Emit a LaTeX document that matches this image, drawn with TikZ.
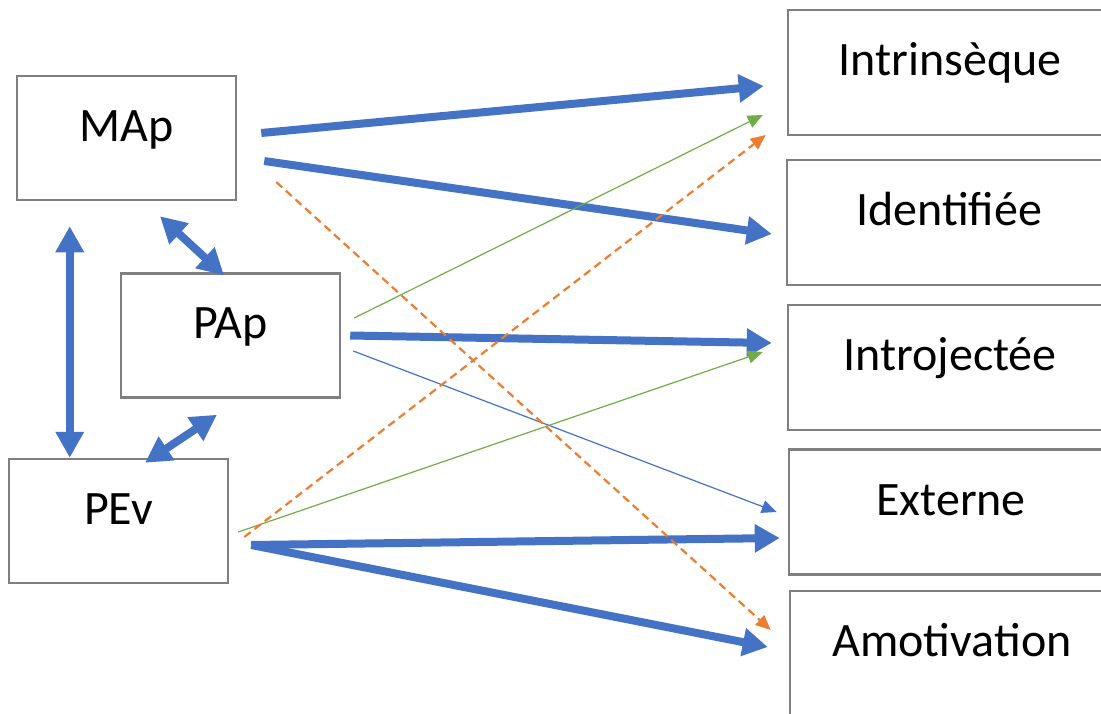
\documentclass[tikz,border=0pt]{standalone}
\usepackage{fontspec}
\setmainfont{Carlito}
\usetikzlibrary{arrows.meta,positioning,calc}
\definecolor{motblue}{HTML}{4472C4}
\definecolor{motgreen}{HTML}{70AD47}
\definecolor{motorange}{HTML}{ED7D31}
\definecolor{motgray}{HTML}{7F7F7F}
\begin{document}
\begin{tikzpicture}[
    x=1pt, y=-1pt,
    box/.style={rectangle, draw=motgray, line width=2.5pt, fill=white, minimum width=219pt, minimum height=124pt, text height=31pt, text depth=25pt, inner sep=0pt, font=\fontsize{48}{57}\selectfont},
    type/.style={box, minimum width=324pt, minimum height=125pt},
    bigarrow/.style={-{Triangle[length=25pt,width=27pt]}, line width=8pt, motblue},
    duo/.style={{Triangle[length=26pt,width=27pt]}-{Triangle[length=26pt,width=27pt]}, line width=8pt, motblue},
    thinarrow/.style={-{Triangle[length=15pt,width=13pt]}, line width=1.2pt},
    dasharrow/.style={-{Triangle[length=15pt,width=13pt]}, line width=2.2pt, motorange, dash pattern=on 8pt off 5pt}
]
\useasboundingbox (0,0) rectangle (1101,713);
\clip (0,0) rectangle (1101,713);

% Predictors (left side)
\node[box] (map) at (126.5,138) {MAp};
\node[box] (pap) at (230.5,335.5) {PAp};
\node[box] (pev) at (118.5,521) {PEv};

% Types of motivation (right side)
\node[type] (intr) at (950,72.5) {Intrinsèque};
\node[type] (iden) at (949,222.5) {Identifiée};
\node[type] (intj) at (950,367.5) {Introjectée};
\node[type] (ext) at (951,512) {Externe};
\node[type] (amot) at (952,653.5) {Amotivation};

% Links between predictors
\draw[duo] ([shift={(54,25)}]map.south west) -- ([shift={(62,0)}]pev.north west);
\draw[duo] ([shift={(33.5,15)}]map.south) -- ([shift={(-6.5,3)}]pap.north);
\draw[duo] ([shift={(-13.5,16)}]pap.south) -- ([shift={(26.5,5)}]pev.north);

% Strong effects
\draw[bigarrow] ([shift={(24,-5)}]map.east) -- ([shift={(-23,13.5)}]intr.west);
\draw[bigarrow] ([shift={(27,23)}]map.east) -- ([shift={(-14,11.5)}]iden.west);
\draw[bigarrow] ([shift={(9,0)}]pap.east) -- ([shift={(-15,-24.5)}]intj.west);
\draw[bigarrow] ([shift={(22,24)}]pev.east) -- ([shift={(-8,26)}]ext.west);
\draw[bigarrow] ([shift={(22,24)}]pev.east) -- ([shift={(-21,-6.5)}]amot.west);

% Weak effects
\draw[thinarrow, motblue] ([shift={(12,15.5)}]pap.east) -- ([shift={(-11,0)}]ext.west);
\draw[thinarrow, motgreen] ([shift={(13,-17.5)}]pap.east) -- ([shift={(-24,42.5)}]intr.west);
\draw[thinarrow, motgreen] ([shift={(9,11)}]pev.east) -- ([shift={(-24,-15.5)}]intj.west);

% Negative effects
\draw[dasharrow] ([shift={(39,44)}]map.east) -- ([shift={(-18,-23.5)}]amot.west);
\draw[dasharrow] ([shift={(15,16)}]pev.east) -- ([shift={(-21,62.5)}]intr.west);

\end{tikzpicture}
\end{document}
